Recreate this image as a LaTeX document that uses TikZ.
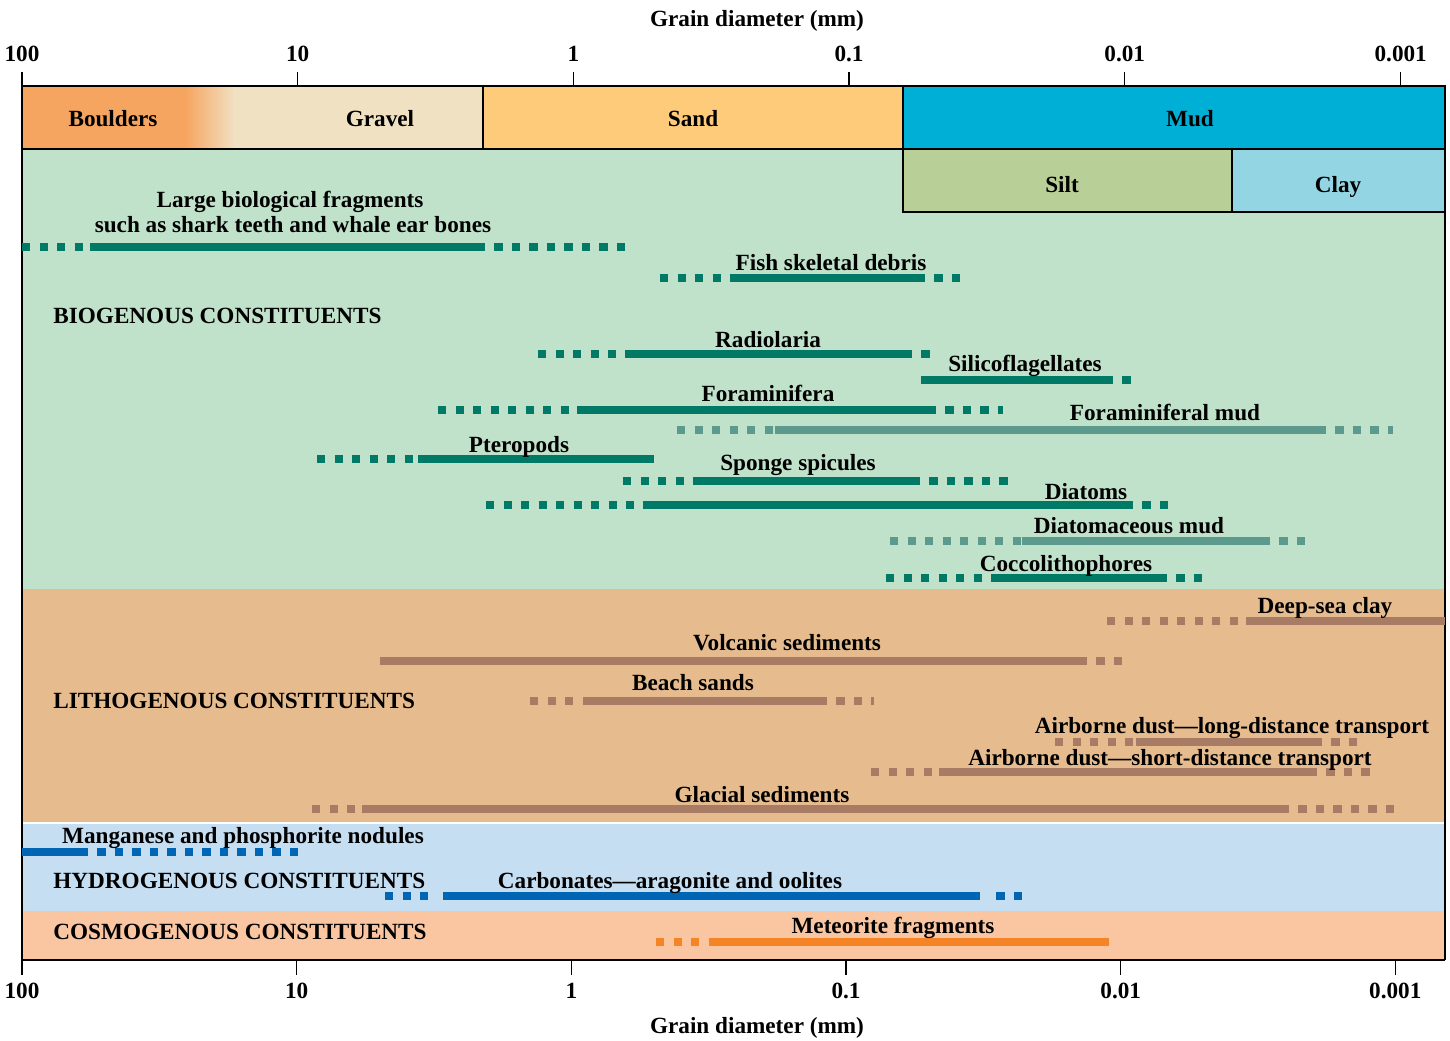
\documentclass[tikz,border=0pt]{standalone}
\usepackage{fontspec}
\setmainfont{Liberation Serif}
\definecolor{biobg}{HTML}{C0E1CA}
\definecolor{lithobg}{HTML}{E6BC8F}
\definecolor{hydrobg}{HTML}{C6DEF2}
\definecolor{cosmobg}{HTML}{FAC6A1}
\definecolor{teal}{HTML}{007A66}
\definecolor{lteal}{HTML}{5B9A8C}
\definecolor{brown}{HTML}{A87B64}
\definecolor{blueline}{HTML}{0066B3}
\definecolor{orangeline}{HTML}{F58426}
\definecolor{mudc}{HTML}{00AFD5}
\definecolor{siltc}{HTML}{B9CF98}
\definecolor{clayc}{HTML}{93D5E2}
\definecolor{sandc}{HTML}{FECB7A}
\definecolor{gravelc}{HTML}{F1E1C3}
\definecolor{boulderc}{HTML}{F6A560}
\newcommand\rangebar[6]{%
  \draw[barw, dotp, #1] (#3,#2) -- (#4,#2);
  \draw[barw, #1] (#4,#2) -- (#5,#2);
  \draw[barw, dotp, dash phase=4.15pt, #1] (#5,#2) -- (#6,#2);
}
\begin{document}
\begin{tikzpicture}[x=0.5pt,y=-0.5pt,
  lbl/.style={font=\fontsize{11.6}{13}\bfseries\selectfont, inner sep=0pt, anchor=base},
  cat/.style={lbl, anchor=base west},
  barw/.style={line width=4.15pt},
  dotp/.style={dash pattern=on 4.15pt off 4.6pt},
  frame/.style={draw=black, line width=0.8pt},
  tick/.style={draw=black, line width=0.7pt}]
\useasboundingbox (0,0) rectangle (1450,1040);
% background bands
\fill[biobg] (22,149) rectangle (1445,589);
\fill[lithobg] (22,589) rectangle (1445,822);
\fill[hydrobg] (22,824) rectangle (1445,911);
\fill[cosmobg] (22,911) rectangle (1445,960);
% header
\fill[boulderc] (22,86) rectangle (186,149);
\shade[left color=boulderc, right color=gravelc] (185,86) rectangle (235,149);
\fill[gravelc] (234,86) rectangle (483,149);
\draw[frame] (22,86) rectangle (483,149);
\filldraw[frame, fill=sandc] (483,86) rectangle (903,149);
\filldraw[frame, fill=mudc] (903,86) rectangle (1445,149);
\filldraw[frame, fill=siltc] (903,149) rectangle (1232,212);
\filldraw[frame, fill=clayc] (1232,149) rectangle (1445,212);
\node[lbl] (boulders) at (113,126) {Boulders};
\node[lbl] (gravel) at (380,126) {Gravel};
\node[lbl] (sand) at (693,126) {Sand};
\node[lbl] (mud) at (1190,126) {Mud};
\node[lbl] (silt) at (1062,192) {Silt};
\node[lbl] (clay) at (1338,192) {Clay};
% frame
\draw[frame] (22,72) -- (22,975);
\draw[frame] (1445,86) -- (1445,960);
\draw[frame] (22,960) -- (1445,960);
% top ticks
\foreach \xx/\tl [count=\i] in {22/100, 297.7/10, 573.3/1, 849/0.1, 1124.7/0.01, 1400.7/0.001}{
  \draw[tick] (\xx,72) -- (\xx,86);
  \node[lbl] (tt\i) at (\xx,61) {\tl};
}
\foreach \xx/\tl [count=\i] in {22/100, 296.7/10, 571.3/1, 846/0.1, 1120.7/0.01, 1395.3/0.001}{
  \draw[tick] (\xx,960) -- (\xx,975);
  \node[lbl] (bt\i) at (\xx,998) {\tl};
}
\node[lbl] (toptitle) at (757,26) {Grain diameter (mm)};
\node[lbl] (bottitle) at (757,1033) {Grain diameter (mm)};
% category labels
\node[cat] (bio) at (53,323) {BIOGENOUS CONSTITUENTS};
\node[cat] (litho) at (53,708) {LITHOGENOUS CONSTITUENTS};
\node[cat] (hydro) at (53,888) {HYDROGENOUS CONSTITUENTS};
\node[cat] (cosmo) at (53,939) {COSMOGENOUS CONSTITUENTS};
% biogenous bars
\rangebar{teal}{247}{22}{90}{485}{625}
\node[lbl] (lbf1) at (290,207) {Large biological fragments};
\node[lbl] (lbf2) at (293,232) {such as shark teeth and whale ear bones};
\rangebar{teal}{278}{660}{730}{925}{962}
\node[lbl] (fish) at (831,270) {Fish skeletal debris};
\rangebar{teal}{354}{538}{625}{912}{931}
\node[lbl] (radio) at (768,347) {Radiolaria};
\rangebar{teal}{380}{921}{921}{1113}{1132}
\node[lbl] (silico) at (1025,371) {Silicoflagellates};
\rangebar{teal}{410}{438}{577}{936}{1003}
\node[lbl] (foram) at (768,401) {Foraminifera};
\rangebar{lteal}{430}{677}{775}{1326}{1393}
\node[lbl] (foramud) at (1165,420) {Foraminiferal mud};
\rangebar{teal}{459}{317}{418}{654}{654}
\node[lbl] (ptero) at (519,452) {Pteropods};
\rangebar{teal}{481}{623}{693}{920}{1008}
\node[lbl] (sponge) at (798,470) {Sponge spicules};
\rangebar{teal}{505}{486}{643}{1133}{1168}
\node[lbl] (diatoms) at (1086,499) {Diatoms};
\rangebar{lteal}{541}{890}{1022}{1270}{1306}
\node[lbl] (diamud) at (1129,533) {Diatomaceous mud};
\rangebar{teal}{578}{886}{991}{1167}{1203}
\node[lbl] (cocco) at (1066,571) {Coccolithophores};
% lithogenous bars
\rangebar{brown}{621}{1107}{1246}{1445}{1445}
\node[lbl] (deepsea) at (1325,613) {Deep-sea clay};
\rangebar{brown}{661}{380}{380}{1087}{1123}
\node[lbl] (volc) at (787,650) {Volcanic sediments};
\rangebar{brown}{701}{530}{583}{827}{874}
\node[lbl] (beach) at (693,690) {Beach sands};
\rangebar{brown}{742}{1055}{1136}{1322}{1358}
\node[lbl] (dustlong) at (1232,733) {Airborne dust---long-distance transport};
\rangebar{brown}{772}{871}{939}{1317}{1370}
\node[lbl] (dustshort) at (1170,765) {Airborne dust---short-distance transport};
\rangebar{brown}{809}{312}{362}{1289}{1395}
\node[lbl] (glacial) at (762,802) {Glacial sediments};
% hydrogenous bars
\rangebar{blueline}{852}{22}{22}{88}{298}
\node[lbl] (mangan) at (243,843) {Manganese and phosphorite nodules};
\draw[barw, dotp, blueline] (385,896) -- (436,896);
\draw[barw, blueline] (443,896) -- (980,896);
\draw[barw, dotp, dash phase=4.15pt, blueline] (987,896) -- (1023,896);
\node[lbl] (carb) at (670,888) {Carbonates---aragonite and oolites};
% cosmogenous bar
\rangebar{orangeline}{942}{656}{717}{1109}{1109}
\node[lbl] (meteor) at (893,933) {Meteorite fragments};
\end{tikzpicture}
\end{document}
